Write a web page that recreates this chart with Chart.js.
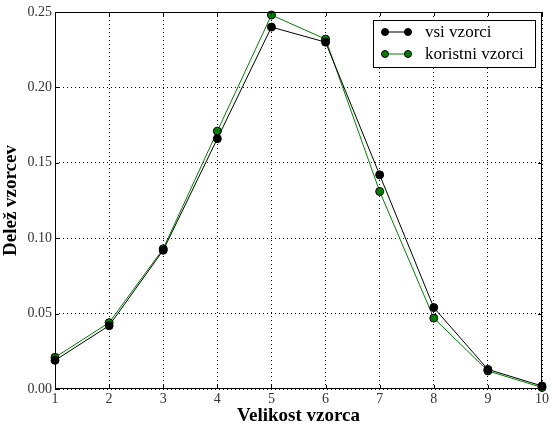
<!DOCTYPE html>
<html lang="en">

<head>
    <meta charset="UTF-8">
    <title>Velikost vzorca</title>
    <style>
        body {
            margin: 0;
            background: #fff;
        }

        .myChart {
            width: 551px;
            height: 427px;
        }
    </style>
</head>

<body>
    <div class="myChart">
        <canvas id="myChart" width="551" height="427"></canvas>
    </div>

    <script src="https://cdn.jsdelivr.net/npm/chart.js"></script>

    <script>
        // data
        const sizes = [1, 2, 3, 4, 5, 6, 7, 8, 9, 10];
        const vsiVzorci = [0.019, 0.042, 0.092, 0.166, 0.240, 0.230, 0.142, 0.054, 0.013, 0.002];
        const koristniVzorci = [0.021, 0.044, 0.093, 0.171, 0.248, 0.232, 0.131, 0.047, 0.012, 0.001];
        const yTicks = [0.00, 0.05, 0.10, 0.15, 0.20, 0.25];

        const serif = "'Liberation Serif', 'DejaVu Serif', serif";

        function toPoints(ys) {
            return sizes.map((x, i) => ({ x: x, y: ys[i] }));
        }

        // frame around the plot + small inward ticks
        const frame = {
            id: 'frame',
            afterDraw(chart) {
                const { ctx, chartArea: a, scales } = chart;
                ctx.save();
                ctx.strokeStyle = '#000';
                ctx.lineWidth = 1;
                ctx.strokeRect(a.left + 0.5, a.top + 0.5, a.right - a.left - 1, a.bottom - a.top - 1);
                ctx.beginPath();
                sizes.forEach(v => {
                    const px = Math.round(scales.x.getPixelForValue(v)) + 0.5;
                    ctx.moveTo(px, a.bottom); ctx.lineTo(px, a.bottom - 4);
                    ctx.moveTo(px, a.top); ctx.lineTo(px, a.top + 4);
                });
                yTicks.forEach(v => {
                    const py = Math.round(scales.y.getPixelForValue(v)) + 0.5;
                    ctx.moveTo(a.left, py); ctx.lineTo(a.left + 4, py);
                    ctx.moveTo(a.right, py); ctx.lineTo(a.right - 4, py);
                });
                ctx.stroke();
                ctx.restore();
            }
        };

        // legend box in the upper right corner of the plot
        const boxLegend = {
            id: 'boxLegend',
            afterDraw(chart) {
                const { ctx, chartArea: a } = chart;
                const x0 = a.right - 169, y0 = a.top + 8, w = 162, h = 47;
                ctx.save();
                ctx.fillStyle = '#fff';
                ctx.fillRect(x0, y0, w, h);
                ctx.strokeStyle = '#000';
                ctx.lineWidth = 1;
                ctx.strokeRect(x0 + 0.5, y0 + 0.5, w, h);
                chart.data.datasets.forEach((ds, i) => {
                    const yy = y0 + 12 + i * 22;
                    ctx.strokeStyle = ds.borderColor;
                    ctx.beginPath();
                    ctx.moveTo(x0 + 12, yy); ctx.lineTo(x0 + 35, yy);
                    ctx.stroke();
                    [x0 + 12, x0 + 35].forEach(cx => {
                        ctx.beginPath();
                        ctx.arc(cx, yy, 3.5, 0, Math.PI * 2);
                        ctx.fillStyle = ds.pointBackgroundColor;
                        ctx.fill();
                        ctx.strokeStyle = '#000';
                        ctx.stroke();
                    });
                    ctx.fillStyle = '#000';
                    ctx.font = '17px ' + serif;
                    ctx.textBaseline = 'middle';
                    ctx.fillText(ds.label, x0 + 52, yy + 1);
                });
                ctx.restore();
            }
        };

        const ctx = document.getElementById('myChart').getContext('2d');
        const myChart = new Chart(ctx, {
            type: 'line',
            data: {
                datasets: [{
                    label: 'vsi vzorci',
                    data: toPoints(vsiVzorci),
                    borderColor: '#000',
                    backgroundColor: '#000',
                    pointBackgroundColor: '#000',
                    pointBorderColor: '#000',
                    borderWidth: 1,
                    pointRadius: 4,
                    pointBorderWidth: 1
                }, {
                    label: 'koristni vzorci',
                    data: toPoints(koristniVzorci),
                    borderColor: '#008000',
                    backgroundColor: '#008000',
                    pointBackgroundColor: '#008000',
                    pointBorderColor: '#000',
                    borderWidth: 1,
                    pointRadius: 4,
                    pointBorderWidth: 1
                }]
            },
            options: {
                responsive: false,
                animation: false,
                clip: false,
                layout: { padding: { top: 12, right: 9, left: 0, bottom: 0 } },
                plugins: {
                    legend: { display: false },
                    tooltip: { enabled: false }
                },
                scales: {
                    x: {
                        type: 'linear',
                        min: 1,
                        max: 10,
                        afterFit(scale) { scale.height = 38; },
                        afterBuildTicks(scale) { scale.ticks = sizes.map(v => ({ value: v })); },
                        ticks: {
                            color: '#333',
                            padding: 2,
                            font: { family: serif, size: 14 },
                            callback: v => String(v)
                        },
                        grid: { color: '#000', lineWidth: 1, drawTicks: false },
                        border: { display: false, dash: [1, 3] },
                        title: {
                            display: true,
                            text: 'Velikost vzorca',
                            color: '#000',
                            padding: { top: 0, bottom: 0 },
                            font: { family: serif, size: 19, weight: 'bold' }
                        }
                    },
                    y: {
                        min: 0,
                        max: 0.25,
                        afterFit(scale) { scale.width = 55; },
                        afterBuildTicks(scale) { scale.ticks = yTicks.map(v => ({ value: v })); },
                        ticks: {
                            color: '#333',
                            padding: 3,
                            font: { family: serif, size: 14 },
                            callback: v => v.toFixed(2)
                        },
                        grid: { color: '#000', lineWidth: 1, drawTicks: false },
                        border: { display: false, dash: [1, 3] },
                        title: {
                            display: true,
                            text: 'Delež vzorcev',
                            color: '#000',
                            padding: { top: 0, bottom: 1 },
                            font: { family: serif, size: 19, weight: 'bold' }
                        }
                    }
                }
            },
            plugins: [frame, boxLegend]
        });
    </script>

</body>

</html>
